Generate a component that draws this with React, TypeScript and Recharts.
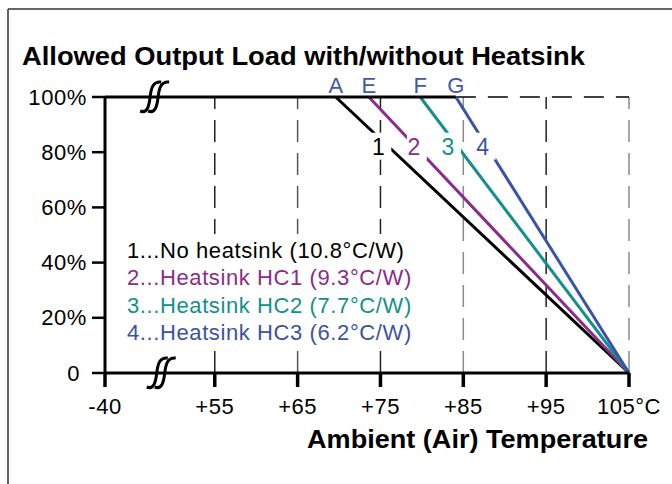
import React from "react";
import { LineChart, Line, XAxis, YAxis, ReferenceLine, ReferenceDot } from "recharts";

// "-40" sits right after the axis break, so it gets a stand-in position on the scale
const BREAK_POS = 41.75;
const X_TICKS = [BREAK_POS, 55, 65, 75, 85, 95, 105];
const X_TICK_LABELS = ["-40", "+55", "+65", "+75", "+85", "+95", "105°C"];
const Y_TICKS = [0, 20, 40, 60, 80, 100];
const Y_TICK_LABELS = ["0", "20%", "40%", "60%", "80%", "100%"];
const GRID_TEMPS = [55, 65, 75, 85, 95, 105];
const GRID_COLORS = ["#222", "#555", "#222", "#8a8a8a", "#222", "#8a8a8a"];

// derating curves: full load until start temp, then linear down to 0 at 105°C
const CURVE_IDS = ["1", "2", "3", "4"];
const CURVE_NAMES = [
  "No heatsink (10.8°C/W)",
  "Heatsink HC1 (9.3°C/W)",
  "Heatsink HC2 (7.7°C/W)",
  "Heatsink HC3 (6.2°C/W)",
];
const CURVE_COLORS = ["#000000", "#8b2b8b", "#13908b", "#3b53a6"];
const START_TEMPS = [69.6, 73.6, 79.8, 84.1];
const START_LETTERS = ["A", "E", "F", "G"];
const END_TEMP = 105;
const FULL_LOAD = 100;

// where the curve numbers sit on each line
const CURVE_LABEL_TEMPS = [75.1, 79.4, 83.5, 87.7];
const CURVE_LABEL_LOAD = 82;

// axis break marks
const BREAK_MARK_TEMPS = [47.8, 48.6];
const BREAK_MARK_LOADS = [100, 0];

const FONT = "'Liberation Sans', Arial, sans-serif";
const LETTER_COLOR = "#4257a8";

const flatPart = [
  { t: BREAK_POS, v: FULL_LOAD },
  { t: START_TEMPS[3], v: FULL_LOAD },
];
const dashedPart = [
  { t: START_TEMPS[3], v: FULL_LOAD },
  { t: END_TEMP, v: FULL_LOAD },
];
const curves = START_TEMPS.map((s) => [
  { t: s, v: FULL_LOAD },
  { t: END_TEMP, v: 0 },
]);

const BreakMark = ({ cx, cy }: any) => {
  const one = (dx: number) =>
    `M ${cx + dx - 12} ${cy + 14} C ${cx + dx - 5} ${cy + 17} ${cx + dx - 3} ${cy + 9} ${cx + dx - 2} ${cy} ` +
    `C ${cx + dx - 1} ${cy - 9} ${cx + dx + 1} ${cy - 16} ${cx + dx + 9} ${cy - 15}`;
  return (
    <g>
      <path d={one(-3)} fill="none" stroke="#000" strokeWidth={3} />
      <path d={one(5)} fill="none" stroke="#000" strokeWidth={3} />
    </g>
  );
};

const YTick = ({ x, y, payload }: any) => {
  const i = Y_TICKS.indexOf(payload.value);
  return (
    <text
      x={payload.value === 0 ? x - 7 : x}
      y={y}
      textAnchor="end"
      dominantBaseline="central"
      fontFamily={FONT}
      fontSize={22}
      letterSpacing={0.6}
      fill="#000"
    >
      {Y_TICK_LABELS[i]}
    </text>
  );
};

export default function App() {
  return (
    <div style={{ position: "absolute", left: 0, top: 0, width: 672, height: 484, background: "#fff" }}>
      <LineChart width={672} height={484} margin={{ top: 97, right: 43, bottom: 71, left: 25 }}>
        <XAxis
          dataKey="t"
          type="number"
          domain={[BREAK_POS, END_TEMP]}
          ticks={X_TICKS}
          tickFormatter={(v: number) => X_TICK_LABELS[X_TICKS.indexOf(v)]}
          interval={0}
          height={40}
          tickSize={14}
          tickMargin={11}
          axisLine={{ stroke: "#000", strokeWidth: 3 }}
          tickLine={{ stroke: "#000", strokeWidth: 3.5 }}
          tick={{ fill: "#000", fontSize: 22, fontFamily: FONT, letterSpacing: 0.5 }}
        />
        <YAxis
          type="number"
          domain={[0, FULL_LOAD]}
          ticks={Y_TICKS}
          interval={0}
          width={80}
          tickSize={13}
          tickMargin={5}
          axisLine={{ stroke: "#000", strokeWidth: 3 }}
          tickLine={{ stroke: "#000", strokeWidth: 2.5 }}
          tick={<YTick />}
        />
        {GRID_TEMPS.map((t, i) => (
          <ReferenceLine key={t} x={t} stroke={GRID_COLORS[i]} strokeWidth={1.5} strokeDasharray="22 11" />
        ))}
        <Line
          data={dashedPart}
          dataKey="v"
          stroke="#000"
          strokeWidth={1.5}
          strokeDasharray="20 12"
          dot={false}
          activeDot={false}
          isAnimationActive={false}
        />
        {curves.map((c, i) => (
          <Line
            key={CURVE_IDS[i]}
            data={c}
            dataKey="v"
            stroke={CURVE_COLORS[i]}
            strokeWidth={3}
            dot={false}
            activeDot={false}
            isAnimationActive={false}
          />
        ))}
        <Line
          data={flatPart}
          dataKey="v"
          stroke="#000"
          strokeWidth={3}
          dot={false}
          activeDot={false}
          isAnimationActive={false}
        />
        {/* curve numbers, knocked out of the lines */}
        {CURVE_LABEL_TEMPS.map((t, i) => (
          <ReferenceDot
            key={"n" + i}
            x={t}
            y={CURVE_LABEL_LOAD}
            shape={(p: any) => (
              <g>
                <rect x={p.cx - 10} y={p.cy - 14} width={20} height={27} fill="#fff" />
                <text
                  x={p.cx - 3}
                  y={p.cy}
                  textAnchor="middle"
                  dominantBaseline="central"
                  fontFamily={FONT}
                  fontSize={23}
                  fill={CURVE_COLORS[i]}
                >
                  {CURVE_IDS[i]}
                </text>
              </g>
            )}
          />
        ))}
        {START_TEMPS.map((t, i) => (
          <ReferenceDot
            key={"l" + i}
            x={t}
            y={FULL_LOAD}
            shape={(p: any) => (
              <text
                x={p.cx}
                y={p.cy - 4}
                textAnchor="middle"
                fontFamily={FONT}
                fontSize={22}
                fill={LETTER_COLOR}
              >
                {START_LETTERS[i]}
              </text>
            )}
          />
        ))}
        {BREAK_MARK_TEMPS.map((t, i) => (
          <ReferenceDot key={"b" + i} x={t} y={BREAK_MARK_LOADS[i]} shape={(p: any) => <BreakMark cx={p.cx} cy={p.cy} />} />
        ))}
      </LineChart>
      <svg
        width={672}
        height={484}
        style={{ position: "absolute", left: 0, top: 0, pointerEvents: "none" }}
      >
        <line x1={8} y1={9} x2={672} y2={9} stroke="#333" strokeWidth={1.5} />
        <line x1={8} y1={9} x2={8} y2={484} stroke="#333" strokeWidth={1.5} />
        <text
          x={22}
          y={65}
          fontFamily={FONT}
          fontWeight="bold"
          fontSize={26}
          fill="#000"
          textLength={563}
          lengthAdjust="spacingAndGlyphs"
        >
          Allowed Output Load with/without Heatsink
        </text>
        <text
          x={307}
          y={448}
          fontFamily={FONT}
          fontWeight="bold"
          fontSize={26}
          fill="#000"
          textLength={341}
          lengthAdjust="spacingAndGlyphs"
        >
          Ambient (Air) Temperature
        </text>
        {/* legend box sits on white, hiding the grid behind it */}
        <rect x={116} y={234} width={300} height={116} fill="#fff" />
        {CURVE_NAMES.map((n, i) => (
          <text
            key={n}
            x={127}
            y={258 + i * 27.3}
            fontFamily={FONT}
            fontSize={22}
            letterSpacing={0.6}
            fill={CURVE_COLORS[i]}
          >
            {CURVE_IDS[i]}...{n}
          </text>
        ))}
      </svg>
    </div>
  );
}
